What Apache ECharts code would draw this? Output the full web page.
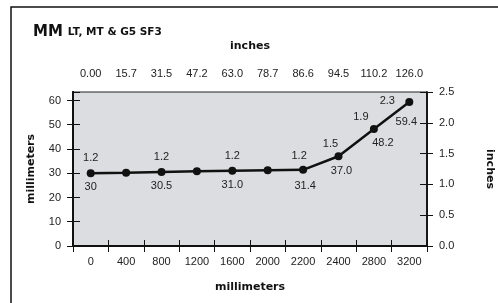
<!DOCTYPE html>
<html>
<head>
<meta charset="utf-8">
<script src="https://cdn.jsdelivr.net/npm/echarts@6/dist/echarts.min.js"></script>
<style>
  html, body { margin: 0; padding: 0; background: #fff; }
  #chart { width: 498px; height: 303px; }
</style>
</head>
<body>
<div id="chart"></div>
<script>
// chart values
const mmCategories = ['0', '400', '800', '1200', '1600', '2000', '2200', '2400', '2800', '3200'];
const inchCategories = ['0.00', '15.7', '31.5', '47.2', '63.0', '78.7', '86.6', '94.5', '110.2', '126.0'];
const deflectionMm = [30, 30.2, 30.5, 30.8, 31.0, 31.2, 31.4, 37.0, 48.2, 59.4];
const mmLabels = ['30', '', '30.5', '', '31.0', '', '31.4', '37.0', '48.2', '59.4'];
const inchLabels = ['1.2', '', '1.2', '', '1.2', '', '1.2', '1.5', '1.9', '2.3'];
const mmAxisMax = 63.5;
const inchAxisMax = 2.5;

var font = 'Liberation Sans, Arial, sans-serif';
var boldFont = 'DejaVu Sans, sans-serif';

// label offsets for the steep part of the curve
var topOffsets = { 6: [-4, -14], 7: [-8, -12], 8: [-13, -12], 9: [-22, -1] };
var bottomOffsets = { 6: [2, 16], 7: [3, 15], 8: [9, 14], 9: [-3, 20] };

var labelStyle = { color: '#222', fontFamily: font, fontSize: 11 };

var topData = deflectionMm.map(function (v, i) {
  return {
    value: v,
    label: {
      show: inchLabels[i] !== '',
      formatter: inchLabels[i],
      position: 'inside',
      offset: topOffsets[i] || [0, -15]
    }
  };
});
var bottomData = deflectionMm.map(function (v, i) {
  return {
    value: v,
    label: {
      show: mmLabels[i] !== '',
      formatter: mmLabels[i],
      position: 'inside',
      offset: bottomOffsets[i] || [0, 14]
    }
  };
});

function xAx(data, pos, inside, showLabel) {
  return {
    type: 'category',
    data: data,
    position: pos,
    boundaryGap: true,
    axisLine: { show: true, lineStyle: { color: '#111', width: pos === 'bottom' ? 2 : 1.5 } },
    axisTick: { show: true, inside: inside, length: inside ? 5 : 6, alignWithLabel: false, lineStyle: { color: '#111', width: 1 } },
    axisLabel: { show: showLabel, interval: 0, margin: pos === 'bottom' ? 10 : 13, color: '#222', fontFamily: font, fontSize: 11 },
    splitLine: { show: false }
  };
}

function yAx(max, interval, pos, inside, showLabel, digits) {
  return {
    type: 'value',
    position: pos,
    min: 0,
    max: max,
    interval: interval,
    axisLine: { show: true, onZero: false, lineStyle: { color: '#111', width: pos === 'left' ? 2 : 1.5 } },
    axisTick: { show: true, inside: inside, length: inside ? 7 : 6, lineStyle: { color: '#111', width: 1 } },
    axisLabel: {
      show: showLabel,
      margin: 12,
      color: '#222',
      fontFamily: font,
      fontSize: 11,
      showMaxLabel: max % interval === 0,
      formatter: function (v) { return v.toFixed(digits); }
    },
    splitLine: { show: false }
  };
}

var nameStyle = { fontFamily: boldFont, fontWeight: 'bold', fontSize: 11, color: '#111' };

var xAxes = [
  xAx(mmCategories, 'bottom', false, true),
  xAx(mmCategories, 'bottom', true, false),
  xAx(inchCategories, 'top', false, true),
  xAx(inchCategories, 'top', true, false)
];
xAxes[0].name = 'millimeters';
xAxes[0].nameLocation = 'middle';
xAxes[0].nameGap = 36;
xAxes[0].nameTextStyle = nameStyle;
xAxes[2].name = 'inches';
xAxes[2].nameLocation = 'middle';
xAxes[2].nameGap = 40;
xAxes[2].nameTextStyle = nameStyle;

var yAxes = [
  yAx(mmAxisMax, 10, 'left', false, true, 0),
  yAx(mmAxisMax, 10, 'left', true, false, 0),
  yAx(inchAxisMax, 0.5, 'right', false, true, 1),
  yAx(inchAxisMax, 0.5, 'right', true, false, 1)
];
yAxes[0].name = 'millimeters';
yAxes[0].nameLocation = 'middle';
yAxes[0].nameGap = 36;
yAxes[0].nameTextStyle = nameStyle;
yAxes[2].name = 'inches';
yAxes[2].nameLocation = 'middle';
yAxes[2].nameGap = 57;
yAxes[2].nameRotate = -90;
yAxes[2].nameTextStyle = nameStyle;

var option = {
  backgroundColor: '#fff',
  animation: false,
  title: {
    text: '{big|MM} {small|LT, MT & G5 SF3}',
    left: 28,
    top: 18,
    textStyle: {
      rich: {
        big: { fontFamily: boldFont, fontWeight: 'bold', fontSize: 15, color: '#111' },
        small: { fontFamily: boldFont, fontWeight: 'bold', fontSize: 10.5, color: '#111' }
      }
    }
  },
  graphic: [{
    type: 'rect',
    shape: { x: 11, y: 7, width: 600, height: 400 },
    style: { fill: null, stroke: '#111', lineWidth: 1.5 },
    silent: true
  }],
  grid: {
    left: 73, right: 71, top: 92, bottom: 57,
    outerBoundsMode: 'none',
    containLabel: false,
    show: true,
    backgroundColor: '#dcdde0',
    borderColor: '#222',
    borderWidth: 1
  },
  xAxis: xAxes,
  yAxis: yAxes,
  series: [
    {
      type: 'line',
      xAxisIndex: 0,
      yAxisIndex: 0,
      data: topData,
      symbol: 'circle',
      symbolSize: 8,
      lineStyle: { color: '#111', width: 2.5 },
      itemStyle: { color: '#111' },
      label: labelStyle,
      z: 3
    },
    {
      type: 'line',
      xAxisIndex: 0,
      yAxisIndex: 0,
      data: bottomData,
      symbol: 'circle',
      symbolSize: 1,
      showSymbol: true,
      itemStyle: { color: 'rgba(0,0,0,0)' },
      lineStyle: { width: 0, opacity: 0 },
      label: labelStyle,
      z: 2
    }
  ]
};

var myChart = echarts.init(document.getElementById('chart'));
myChart.setOption(option);
</script>
</body>
</html>
